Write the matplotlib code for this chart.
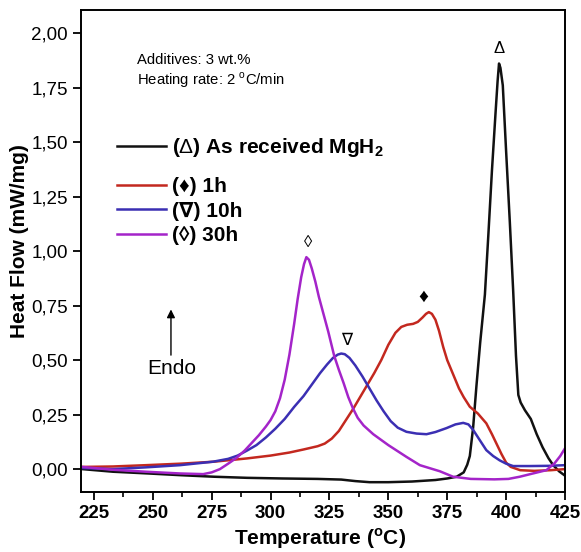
import matplotlib
matplotlib.use("Agg")
import matplotlib.pyplot as plt
from matplotlib.ticker import MultipleLocator, FuncFormatter

plt.rcParams['font.family'] = ['Liberation Sans', 'DejaVu Sans']
plt.rcParams['mathtext.fontset'] = 'custom'
plt.rcParams['mathtext.rm'] = 'Liberation Sans'
plt.rcParams['mathtext.bf'] = 'Liberation Sans:bold'

# DSC curves: temperature (C) / heat flow (mW/mg)
t_received = [220, 233, 248, 262, 276, 290, 305, 320, 330, 336, 342, 350, 360, 370, 375,
              379, 382, 383.5, 384.6, 386, 387.4, 389, 391, 392.5, 394, 395.5, 396.4, 397,
              397.6, 398.6, 400, 401.6, 403, 404.2, 405.2, 406.2, 408, 410.5, 413, 415.5,
              418, 420, 422.5, 425]
hf_received = [0.0, -0.012, -0.02, -0.028, -0.035, -0.04, -0.043, -0.045, -0.048, -0.055,
               -0.06, -0.06, -0.057, -0.05, -0.043, -0.035, -0.015, 0.02, 0.06, 0.19, 0.38,
               0.58, 0.8, 1.08, 1.37, 1.63, 1.78, 1.86, 1.84, 1.76, 1.46, 1.13, 0.82, 0.52,
               0.34, 0.305, 0.27, 0.23, 0.16, 0.1, 0.05, 0.018, -0.01, -0.03]

t_1h = [220, 233, 247, 262, 276, 290, 300, 308, 314, 320, 323, 326, 329, 332, 335, 338, 341,
        344, 347, 350, 353, 355.5, 358, 360.5, 362.5, 364.5, 366, 367.2, 368.5, 370, 371.5,
        373.3, 375, 377.5, 380, 382, 384.6, 388, 391.6, 394, 396, 398, 400, 402, 406, 412,
        419, 425]
hf_1h = [0.01, 0.012, 0.018, 0.025, 0.034, 0.049, 0.062, 0.076, 0.09, 0.105, 0.117, 0.14,
         0.175, 0.225, 0.275, 0.33, 0.385, 0.44, 0.5, 0.57, 0.625, 0.652, 0.662, 0.666, 0.675,
         0.695, 0.712, 0.72, 0.712, 0.685, 0.635, 0.56, 0.5, 0.435, 0.37, 0.33, 0.286, 0.255,
         0.21, 0.16, 0.115, 0.07, 0.03, 0.01, -0.005, -0.008, -0.005, 0.0]

t_10h = [220, 233, 247, 261.5, 275.6, 282, 286, 290, 294, 298, 302, 306, 310, 314, 318,
         321, 324, 326.5, 328.5, 330, 331.5, 333.5, 336, 339, 342, 345, 348, 351, 354, 357.7,
         362, 366.2, 370, 374.7, 378.5, 381.8, 384, 386, 389, 391.6, 394.5, 397.3, 400, 403,
         410, 418, 425]
hf_10h = [0.005, 0.0, 0.008, 0.018, 0.034, 0.047, 0.062, 0.085, 0.11, 0.145, 0.185, 0.23,
          0.285, 0.335, 0.395, 0.44, 0.48, 0.51, 0.525, 0.53, 0.527, 0.51, 0.475, 0.425, 0.37,
          0.315, 0.265, 0.22, 0.19, 0.171, 0.163, 0.16, 0.17, 0.188, 0.205, 0.212, 0.205,
          0.18, 0.13, 0.087, 0.06, 0.04, 0.025, 0.014, 0.014, 0.015, 0.018]

t_30h = [220, 233, 247, 261.5, 271.4, 275, 278.5, 282, 285.6, 289, 292, 295, 298, 300, 302,
         304, 306, 308, 310, 311.5, 313, 314.2, 315.2, 316.3, 317.5, 319, 320.5, 322.5, 324.5,
         327, 329, 331, 333, 335, 337, 339.5, 343.6, 350, 357.7, 363.4, 371.9, 377.5, 385,
         395, 401, 405.8, 411.4, 417.1, 420.6, 423, 425]
hf_30h = [0.01, -0.003, -0.012, -0.02, -0.023, -0.015, 0.0, 0.025, 0.052, 0.085, 0.12, 0.155,
          0.195, 0.225, 0.265, 0.325, 0.41, 0.525, 0.665, 0.78, 0.88, 0.94, 0.972, 0.96, 0.92,
          0.86, 0.79, 0.71, 0.63, 0.52, 0.455, 0.395, 0.33, 0.278, 0.235, 0.2, 0.16, 0.11,
          0.056, 0.018, -0.01, -0.035, -0.045, -0.047, -0.045, -0.035, -0.02, -0.005, 0.027,
          0.06, 0.095]

labels = [r"($\Delta$) As received MgH$_\mathbf{2}$", "(\u2666) 1h", "(\u2207) 10h", "(\u25ca) 30h"]
colors = ['#111111', '#c3281f', '#3b2fb3', '#a424c9']
peak_marks = ["\u0394", "\u2666", "\u2207", "\u25ca"]

fig = plt.figure(figsize=(5.81, 5.52), dpi=100)
ax = fig.add_axes([0.1394, 0.1087, 0.833, 0.873])

series = [(t_received, hf_received), (t_1h, hf_1h), (t_10h, hf_10h), (t_30h, hf_30h)]
lines = []
for (t, hf), c in zip(series, colors):
    ln, = ax.plot(t, hf, color=c, lw=1.8, solid_joinstyle='round')
    lines.append(ln)

# symbols over the peaks
ax.text(397, 1.93, peak_marks[0], ha='center', va='center', fontsize=12)
ax.text(364.7, 0.79, peak_marks[1], ha='center', va='center', fontsize=14)
ax.text(332.3, 0.59, peak_marks[2], ha='center', va='center', fontsize=12)
ax.text(315.9, 1.04, peak_marks[3], ha='center', va='center', fontsize=12)

ax.text(243.3, 1.876, "Additives: 3 wt.%", fontsize=10.7, va='center')
ax.text(243.3, 1.784, r"Heating rate: 2 $^{\mathrm{o}}$C/min", fontsize=10.7, va='center')

ax.annotate("", xy=(257.7, 0.745), xytext=(257.7, 0.51),
            arrowprops=dict(arrowstyle='-|>', color='black', lw=1.0, mutation_scale=12))
ax.text(258, 0.46, "Endo", fontsize=15, ha='center', va='center')

leg1 = ax.legend([lines[0]], [labels[0]], loc='upper left', bbox_to_anchor=(0.052, 0.76),
                 frameon=False, handlelength=2.35, handletextpad=0.3, borderpad=0,
                 prop={'weight': 'bold', 'size': 15})
ax.add_artist(leg1)
ax.legend(lines[1:], labels[1:], loc='upper left', bbox_to_anchor=(0.052, 0.675),
          frameon=False, handlelength=2.35, handletextpad=0.3, borderpad=0,
          labelspacing=0.26, prop={'weight': 'bold', 'size': 15})

ax.set_xlim(219.5, 425)
ax.set_ylim(-0.105, 2.105)
ax.xaxis.set_major_locator(MultipleLocator(25))
ax.xaxis.set_minor_locator(MultipleLocator(12.5))
ax.yaxis.set_major_locator(MultipleLocator(0.25))
ax.yaxis.set_major_formatter(FuncFormatter(lambda v, p: f"{v:.2f}".replace('.', ',')))
ax.tick_params(axis='both', which='major', direction='out', length=6, width=1.3,
               labelsize=13.5, top=False, right=False)
ax.tick_params(axis='x', which='minor', direction='out', length=3.5, width=1.2)
for lab in ax.get_xticklabels():
    lab.set_fontweight('bold')
for s in ax.spines.values():
    s.set_linewidth(1.4)

ax.set_xlabel(r"Temperature ($^{\mathbf{o}}$C)", fontsize=15, fontweight='bold')
ax.set_ylabel("Heat Flow (mW/mg)", fontsize=15, fontweight='bold')
ax.xaxis.set_label_coords(0.494, -0.072)
ax.yaxis.set_label_coords(-0.108, 0.52)

fig.savefig("out.png", dpi=100)
